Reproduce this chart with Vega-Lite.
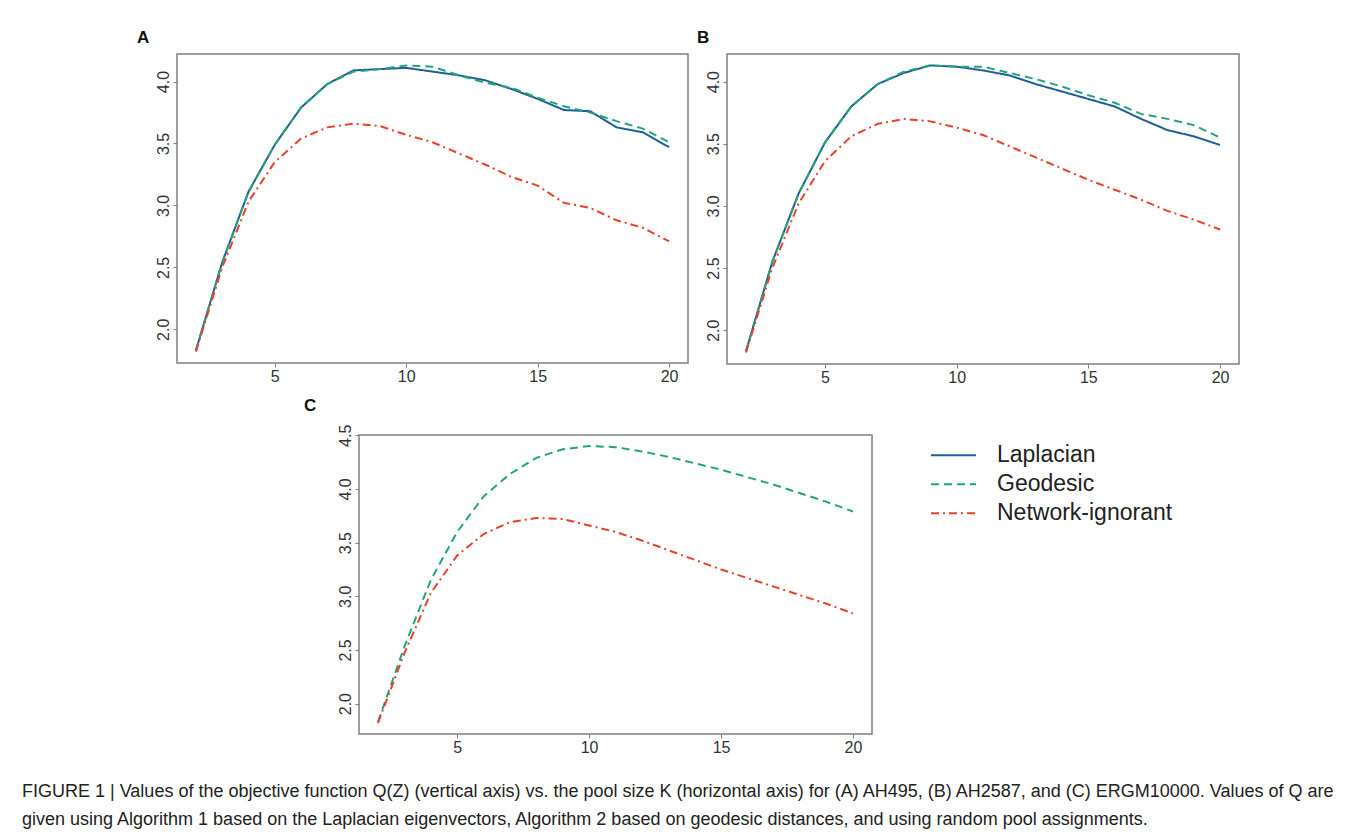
{
  "$schema": "https://vega.github.io/schema/vega-lite/v6.json",
  "background": "white",
  "padding": {"left": 22, "top": 28, "right": 10, "bottom": 10},
  "data": {"values": [
    {"p":"A","m":"Laplacian","K":2,"Q":1.83},{"p":"A","m":"Laplacian","K":3,"Q":2.54},{"p":"A","m":"Laplacian","K":4,"Q":3.11},{"p":"A","m":"Laplacian","K":5,"Q":3.49},{"p":"A","m":"Laplacian","K":6,"Q":3.79},{"p":"A","m":"Laplacian","K":7,"Q":3.98},{"p":"A","m":"Laplacian","K":8,"Q":4.09},{"p":"A","m":"Laplacian","K":9,"Q":4.10},{"p":"A","m":"Laplacian","K":10,"Q":4.11},{"p":"A","m":"Laplacian","K":11,"Q":4.08},{"p":"A","m":"Laplacian","K":12,"Q":4.05},{"p":"A","m":"Laplacian","K":13,"Q":4.01},{"p":"A","m":"Laplacian","K":14,"Q":3.94},{"p":"A","m":"Laplacian","K":15,"Q":3.86},{"p":"A","m":"Laplacian","K":16,"Q":3.77},{"p":"A","m":"Laplacian","K":17,"Q":3.76},{"p":"A","m":"Laplacian","K":18,"Q":3.63},{"p":"A","m":"Laplacian","K":19,"Q":3.59},{"p":"A","m":"Laplacian","K":20,"Q":3.47},
    {"p":"A","m":"Geodesic","K":2,"Q":1.83},{"p":"A","m":"Geodesic","K":3,"Q":2.54},{"p":"A","m":"Geodesic","K":4,"Q":3.11},{"p":"A","m":"Geodesic","K":5,"Q":3.49},{"p":"A","m":"Geodesic","K":6,"Q":3.79},{"p":"A","m":"Geodesic","K":7,"Q":3.98},{"p":"A","m":"Geodesic","K":8,"Q":4.08},{"p":"A","m":"Geodesic","K":9,"Q":4.10},{"p":"A","m":"Geodesic","K":10,"Q":4.13},{"p":"A","m":"Geodesic","K":11,"Q":4.12},{"p":"A","m":"Geodesic","K":12,"Q":4.05},{"p":"A","m":"Geodesic","K":13,"Q":3.99},{"p":"A","m":"Geodesic","K":14,"Q":3.95},{"p":"A","m":"Geodesic","K":15,"Q":3.87},{"p":"A","m":"Geodesic","K":16,"Q":3.80},{"p":"A","m":"Geodesic","K":17,"Q":3.75},{"p":"A","m":"Geodesic","K":18,"Q":3.68},{"p":"A","m":"Geodesic","K":19,"Q":3.62},{"p":"A","m":"Geodesic","K":20,"Q":3.51},
    {"p":"A","m":"Network-ignorant","K":2,"Q":1.82},{"p":"A","m":"Network-ignorant","K":3,"Q":2.50},{"p":"A","m":"Network-ignorant","K":4,"Q":3.03},{"p":"A","m":"Network-ignorant","K":5,"Q":3.35},{"p":"A","m":"Network-ignorant","K":6,"Q":3.54},{"p":"A","m":"Network-ignorant","K":7,"Q":3.63},{"p":"A","m":"Network-ignorant","K":8,"Q":3.66},{"p":"A","m":"Network-ignorant","K":9,"Q":3.64},{"p":"A","m":"Network-ignorant","K":10,"Q":3.57},{"p":"A","m":"Network-ignorant","K":11,"Q":3.51},{"p":"A","m":"Network-ignorant","K":12,"Q":3.42},{"p":"A","m":"Network-ignorant","K":13,"Q":3.33},{"p":"A","m":"Network-ignorant","K":14,"Q":3.23},{"p":"A","m":"Network-ignorant","K":15,"Q":3.16},{"p":"A","m":"Network-ignorant","K":16,"Q":3.02},{"p":"A","m":"Network-ignorant","K":17,"Q":2.98},{"p":"A","m":"Network-ignorant","K":18,"Q":2.88},{"p":"A","m":"Network-ignorant","K":19,"Q":2.82},{"p":"A","m":"Network-ignorant","K":20,"Q":2.71},
    {"p":"B","m":"Laplacian","K":2,"Q":1.83},{"p":"B","m":"Laplacian","K":3,"Q":2.55},{"p":"B","m":"Laplacian","K":4,"Q":3.10},{"p":"B","m":"Laplacian","K":5,"Q":3.51},{"p":"B","m":"Laplacian","K":6,"Q":3.80},{"p":"B","m":"Laplacian","K":7,"Q":3.98},{"p":"B","m":"Laplacian","K":8,"Q":4.07},{"p":"B","m":"Laplacian","K":9,"Q":4.13},{"p":"B","m":"Laplacian","K":10,"Q":4.12},{"p":"B","m":"Laplacian","K":11,"Q":4.09},{"p":"B","m":"Laplacian","K":12,"Q":4.05},{"p":"B","m":"Laplacian","K":13,"Q":3.98},{"p":"B","m":"Laplacian","K":14,"Q":3.92},{"p":"B","m":"Laplacian","K":15,"Q":3.86},{"p":"B","m":"Laplacian","K":16,"Q":3.80},{"p":"B","m":"Laplacian","K":17,"Q":3.70},{"p":"B","m":"Laplacian","K":18,"Q":3.61},{"p":"B","m":"Laplacian","K":19,"Q":3.56},{"p":"B","m":"Laplacian","K":20,"Q":3.49},
    {"p":"B","m":"Geodesic","K":2,"Q":1.83},{"p":"B","m":"Geodesic","K":3,"Q":2.55},{"p":"B","m":"Geodesic","K":4,"Q":3.10},{"p":"B","m":"Geodesic","K":5,"Q":3.51},{"p":"B","m":"Geodesic","K":6,"Q":3.80},{"p":"B","m":"Geodesic","K":7,"Q":3.98},{"p":"B","m":"Geodesic","K":8,"Q":4.08},{"p":"B","m":"Geodesic","K":9,"Q":4.13},{"p":"B","m":"Geodesic","K":10,"Q":4.12},{"p":"B","m":"Geodesic","K":11,"Q":4.12},{"p":"B","m":"Geodesic","K":12,"Q":4.07},{"p":"B","m":"Geodesic","K":13,"Q":4.02},{"p":"B","m":"Geodesic","K":14,"Q":3.96},{"p":"B","m":"Geodesic","K":15,"Q":3.89},{"p":"B","m":"Geodesic","K":16,"Q":3.83},{"p":"B","m":"Geodesic","K":17,"Q":3.74},{"p":"B","m":"Geodesic","K":18,"Q":3.70},{"p":"B","m":"Geodesic","K":19,"Q":3.65},{"p":"B","m":"Geodesic","K":20,"Q":3.55},
    {"p":"B","m":"Network-ignorant","K":2,"Q":1.82},{"p":"B","m":"Network-ignorant","K":3,"Q":2.50},{"p":"B","m":"Network-ignorant","K":4,"Q":3.02},{"p":"B","m":"Network-ignorant","K":5,"Q":3.36},{"p":"B","m":"Network-ignorant","K":6,"Q":3.56},{"p":"B","m":"Network-ignorant","K":7,"Q":3.66},{"p":"B","m":"Network-ignorant","K":8,"Q":3.70},{"p":"B","m":"Network-ignorant","K":9,"Q":3.68},{"p":"B","m":"Network-ignorant","K":10,"Q":3.63},{"p":"B","m":"Network-ignorant","K":11,"Q":3.57},{"p":"B","m":"Network-ignorant","K":12,"Q":3.48},{"p":"B","m":"Network-ignorant","K":13,"Q":3.39},{"p":"B","m":"Network-ignorant","K":14,"Q":3.30},{"p":"B","m":"Network-ignorant","K":15,"Q":3.21},{"p":"B","m":"Network-ignorant","K":16,"Q":3.13},{"p":"B","m":"Network-ignorant","K":17,"Q":3.05},{"p":"B","m":"Network-ignorant","K":18,"Q":2.96},{"p":"B","m":"Network-ignorant","K":19,"Q":2.89},{"p":"B","m":"Network-ignorant","K":20,"Q":2.81},
    {"p":"C","m":"Geodesic","K":2,"Q":1.83},{"p":"C","m":"Geodesic","K":3,"Q":2.53},{"p":"C","m":"Geodesic","K":4,"Q":3.15},{"p":"C","m":"Geodesic","K":5,"Q":3.60},{"p":"C","m":"Geodesic","K":6,"Q":3.93},{"p":"C","m":"Geodesic","K":7,"Q":4.14},{"p":"C","m":"Geodesic","K":8,"Q":4.29},{"p":"C","m":"Geodesic","K":9,"Q":4.37},{"p":"C","m":"Geodesic","K":10,"Q":4.40},{"p":"C","m":"Geodesic","K":11,"Q":4.39},{"p":"C","m":"Geodesic","K":12,"Q":4.35},{"p":"C","m":"Geodesic","K":13,"Q":4.30},{"p":"C","m":"Geodesic","K":14,"Q":4.24},{"p":"C","m":"Geodesic","K":15,"Q":4.18},{"p":"C","m":"Geodesic","K":16,"Q":4.11},{"p":"C","m":"Geodesic","K":17,"Q":4.04},{"p":"C","m":"Geodesic","K":18,"Q":3.96},{"p":"C","m":"Geodesic","K":19,"Q":3.88},{"p":"C","m":"Geodesic","K":20,"Q":3.79},
    {"p":"C","m":"Network-ignorant","K":2,"Q":1.82},{"p":"C","m":"Network-ignorant","K":3,"Q":2.47},{"p":"C","m":"Network-ignorant","K":4,"Q":3.03},{"p":"C","m":"Network-ignorant","K":5,"Q":3.38},{"p":"C","m":"Network-ignorant","K":6,"Q":3.58},{"p":"C","m":"Network-ignorant","K":7,"Q":3.69},{"p":"C","m":"Network-ignorant","K":8,"Q":3.73},{"p":"C","m":"Network-ignorant","K":9,"Q":3.72},{"p":"C","m":"Network-ignorant","K":10,"Q":3.66},{"p":"C","m":"Network-ignorant","K":11,"Q":3.60},{"p":"C","m":"Network-ignorant","K":12,"Q":3.52},{"p":"C","m":"Network-ignorant","K":13,"Q":3.43},{"p":"C","m":"Network-ignorant","K":14,"Q":3.34},{"p":"C","m":"Network-ignorant","K":15,"Q":3.25},{"p":"C","m":"Network-ignorant","K":16,"Q":3.17},{"p":"C","m":"Network-ignorant","K":17,"Q":3.09},{"p":"C","m":"Network-ignorant","K":18,"Q":3.01},{"p":"C","m":"Network-ignorant","K":19,"Q":2.93},{"p":"C","m":"Network-ignorant","K":20,"Q":2.84}
  ]},
  "title": {
    "text": [
      "FIGURE 1 | Values of the objective function Q(Z) (vertical axis) vs. the pool size K (horizontal axis) for (A) AH495, (B) AH2587, and (C) ERGM10000. Values of Q are",
      "given using Algorithm 1 based on the Laplacian eigenvectors, Algorithm 2 based on geodesic distances, and using random pool assignments."
    ],
    "orient": "bottom",
    "anchor": "start",
    "frame": "group",
    "baseline": "top",
    "dx": -155,
    "offset": 27,
    "font": "Liberation Sans",
    "fontSize": 18,
    "fontWeight": "normal",
    "color": "#222222",
    "lineHeight": 28
  },
  "spacing": 10,
  "vconcat": [
    {
      "spacing": 39,
      "bounds": "flush",
      "hconcat": [
        {
          "width": 511, "height": 309,
          "title": {"text": "A", "dx": -40, "offset": 7},
          "transform": [{"filter": "datum.p == 'A'"}],
          "mark": {"type": "line", "strokeWidth": 2},
          "encoding": {
            "x": {"field": "K", "type": "quantitative", "scale": {"domain": [1.28, 20.72], "nice": false, "zero": false}, "axis": {"values": [5, 10, 15, 20]}},
            "y": {"field": "Q", "type": "quantitative", "scale": {"domain": [1.728, 4.222], "nice": false, "zero": false}, "axis": {"values": [2, 2.5, 3, 3.5, 4], "format": ".1f"}},
            "color": {"field": "m", "type": "nominal", "title": null, "scale": {"domain": ["Laplacian", "Geodesic", "Network-ignorant"], "range": ["#1f5f99", "#22a57a", "#e8402a"]}},
            "strokeDash": {"field": "m", "type": "nominal", "title": null, "scale": {"domain": ["Laplacian", "Geodesic", "Network-ignorant"], "range": [[1, 0], [8, 5], [8, 4, 2, 4]]}}
          }
        },
        {
          "width": 512, "height": 310,
          "title": {"text": "B", "dx": -30, "offset": 7},
          "transform": [{"filter": "datum.p == 'B'"}],
          "mark": {"type": "line", "strokeWidth": 2},
          "encoding": {
            "x": {"field": "K", "type": "quantitative", "scale": {"domain": [1.28, 20.72], "nice": false, "zero": false}, "axis": {"values": [5, 10, 15, 20]}},
            "y": {"field": "Q", "type": "quantitative", "scale": {"domain": [1.728, 4.222], "nice": false, "zero": false}, "axis": {"values": [2, 2.5, 3, 3.5, 4], "format": ".1f"}},
            "color": {"field": "m", "type": "nominal", "title": null, "scale": {"domain": ["Laplacian", "Geodesic", "Network-ignorant"], "range": ["#1f5f99", "#22a57a", "#e8402a"]}},
            "strokeDash": {"field": "m", "type": "nominal", "title": null, "scale": {"domain": ["Laplacian", "Geodesic", "Network-ignorant"], "range": [[1, 0], [8, 5], [8, 4, 2, 4]]}}
          }
        }
      ]
    },
    {
      "spacing": 0,
      "bounds": "flush",
      "hconcat": [
        {
          "width": 182, "height": 299,
          "view": {"stroke": null},
          "data": {"values": [{"t": ""}]},
          "mark": {"type": "text"},
          "encoding": {"text": {"field": "t", "type": "nominal"}}
        },
        {
          "width": 513, "height": 299,
          "title": {"text": "C", "dx": -55, "offset": 9},
          "transform": [{"filter": "datum.p == 'C'"}],
          "mark": {"type": "line", "strokeWidth": 2},
          "encoding": {
            "x": {"field": "K", "type": "quantitative", "scale": {"domain": [1.28, 20.72], "nice": false, "zero": false}, "axis": {"values": [5, 10, 15, 20]}},
            "y": {"field": "Q", "type": "quantitative", "scale": {"domain": [1.717, 4.503], "nice": false, "zero": false}, "axis": {"values": [2, 2.5, 3, 3.5, 4, 4.5], "format": ".1f"}},
            "color": {"field": "m", "type": "nominal", "title": null, "scale": {"domain": ["Laplacian", "Geodesic", "Network-ignorant"], "range": ["#1f5f99", "#22a57a", "#e8402a"]}},
            "strokeDash": {"field": "m", "type": "nominal", "title": null, "scale": {"domain": ["Laplacian", "Geodesic", "Network-ignorant"], "range": [[1, 0], [8, 5], [8, 4, 2, 4]]}}
          }
        }
      ]
    }
  ],
  "config": {
    "font": "Liberation Sans",
    "view": {"stroke": "#808080", "strokeWidth": 1.5},
    "title": {"font": "Liberation Sans", "fontSize": 17, "fontWeight": "bold", "color": "#111111", "anchor": "start", "frame": "group", "baseline": "alphabetic"},
    "axis": {"domain": false, "grid": false, "ticks": true, "tickColor": "#808080", "tickSize": 4, "tickWidth": 1, "labelFont": "Liberation Sans", "labelFontSize": 16, "labelColor": "#333333", "labelPadding": 1, "title": null},
    "axisY": {"labelAngle": -90, "labelAlign": "center", "labelBaseline": "bottom", "labelPadding": 2},
    "legend": {
      "orient": "none", "legendX": 753, "legendY": 387,
      "padding": 0,
      "symbolType": "stroke", "symbolSize": 2025, "symbolStrokeWidth": 2,
      "labelFont": "Liberation Sans", "labelFontSize": 23, "labelColor": "#222222", "labelLimit": 400,
      "labelOffset": 20, "rowPadding": 0, "clipHeight": 28.5
    }
  }
}
